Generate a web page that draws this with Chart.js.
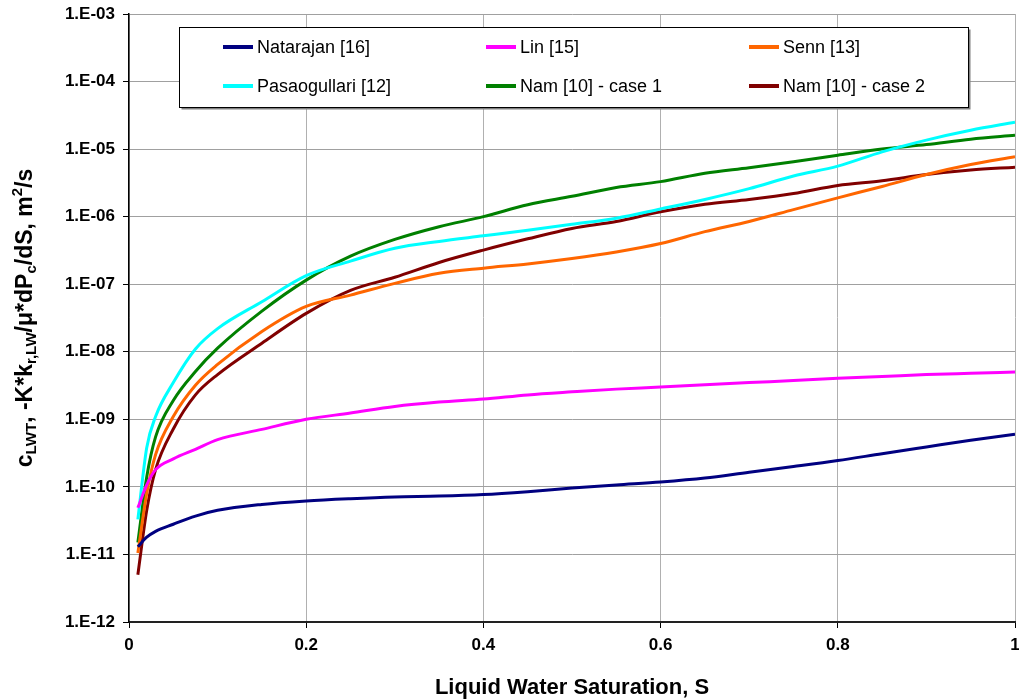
<!DOCTYPE html>
<html>
<head>
<meta charset="utf-8">
<script src="https://cdn.jsdelivr.net/npm/chart.js@4/dist/chart.umd.min.js"></script>
<style>
  html, body { margin: 0; padding: 0; background: #fff; }
  #wrap { width: 1019px; height: 700px; }
</style>
</head>
<body>
<div id="wrap"><canvas id="chart" width="1019" height="700"></canvas></div>
<script>
// liquid water saturation S
const saturation = [0.01, 0.02, 0.03, 0.05, 0.075, 0.1, 0.15, 0.2, 0.25, 0.3, 0.35, 0.4,
  0.45, 0.5, 0.55, 0.6, 0.65, 0.7, 0.75, 0.8, 0.85, 0.9, 0.95, 1.0];

const natarajan = [1.3e-11, 1.8e-11, 2.2e-11, 2.8e-11, 3.7e-11, 4.5e-11, 5.5e-11, 6.2e-11, 6.7e-11,
  7.1e-11, 7.3e-11, 7.7e-11, 8.5e-11, 9.6e-11, 1.07e-10, 1.18e-10, 1.35e-10, 1.65e-10, 2.0e-10,
  2.45e-10, 3.1e-10, 3.9e-10, 4.9e-10, 6.0e-10];
const lin = [4.9e-11, 1.07e-10, 1.8e-10, 2.6e-10, 3.6e-10, 5.0e-10, 7.1e-10, 1.0e-9, 1.24e-9,
  1.55e-9, 1.8e-9, 2.0e-9, 2.3e-9, 2.55e-9, 2.8e-9, 3.0e-9, 3.25e-9, 3.5e-9, 3.75e-9, 4.05e-9,
  4.3e-9, 4.6e-9, 4.8e-9, 5.0e-9];
const senn = [1.05e-11, 8e-11, 3.0e-10, 1.1e-9, 3.2e-9, 6.5e-9, 2.0e-8, 4.7e-8, 6.9e-8, 1.03e-7,
  1.45e-7, 1.73e-7, 2.0e-7, 2.4e-7, 3.0e-7, 4.0e-7, 6.0e-7, 8.5e-7, 1.27e-6, 1.9e-6, 2.8e-6,
  4.2e-6, 5.9e-6, 7.7e-6];
const pasaogullari = [3.3e-11, 3.8e-10, 1.1e-9, 3.5e-9, 1.1e-8, 2.2e-8, 5.5e-8, 1.34e-7, 2.2e-7,
  3.4e-7, 4.3e-7, 5.2e-7, 6.3e-7, 7.7e-7, 9.5e-7, 1.3e-6, 1.8e-6, 2.6e-6, 4.0e-6, 5.6e-6, 9.1e-6,
  1.36e-5, 1.9e-5, 2.5e-5];
const namCase1 = [1.5e-11, 1.4e-10, 5.5e-10, 1.9e-9, 5.1e-9, 1.13e-8, 4.0e-8, 1.15e-7, 2.6e-7,
  4.6e-7, 7.1e-7, 1.0e-6, 1.5e-6, 2.0e-6, 2.7e-6, 3.3e-6, 4.4e-6, 5.3e-6, 6.5e-6, 8.1e-6, 1.0e-5,
  1.17e-5, 1.4e-5, 1.6e-5];
const namCase2 = [5e-12, 4.5e-11, 1.8e-10, 7.2e-10, 2.3e-9, 4.6e-9, 1.34e-8, 3.7e-8, 8.1e-8,
  1.27e-7, 2.1e-7, 3.2e-7, 4.7e-7, 6.7e-7, 8.5e-7, 1.18e-6, 1.53e-6, 1.8e-6, 2.2e-6, 2.9e-6,
  3.4e-6, 4.2e-6, 4.9e-6, 5.4e-6];

const seriesNames = ['Natarajan [16]', 'Lin [15]', 'Senn [13]',
  'Pasaogullari [12]', 'Nam [10] - case 1', 'Nam [10] - case 2'];
const seriesValues = [natarajan, lin, senn, pasaogullari, namCase1, namCase2];
const seriesColors = ['#000080', '#ff00ff', '#ff6600', '#00ffff', '#008000', '#800000'];

const xTicks = [0, 0.2, 0.4, 0.6, 0.8, 1];
const yTicks = [1e-12, 1e-11, 1e-10, 1e-9, 1e-8, 1e-7, 1e-6, 1e-5, 1e-4, 1e-3];
const xTitle = 'Liquid Water Saturation, S';
// y title pieces: normal / sub / sup
const yTitle = [['c', 'n'], ['LWT', 'sub'], [', -K*k', 'n'], ['r,LW', 'sub'], ['/\u03bc*dP', 'n'],
  ['c', 'sub'], ['/dS, m', 'n'], ['2', 'sup'], ['/s', 'n']];

const FONT = '"Liberation Sans", Arial, sans-serif';

function sciLabel(v) {
  const e = Math.round(Math.log10(v));
  const sign = e < 0 ? '-' : '+';
  const a = Math.abs(e);
  return '1.E' + sign + (a < 10 ? '0' + a : a);
}

const datasets = seriesNames.map((name, i) => ({
  label: name,
  data: saturation.map((s, j) => ({ x: s, y: seriesValues[i][j] })),
  borderColor: seriesColors[i],
  backgroundColor: seriesColors[i],
  borderWidth: 3,
  pointRadius: 0,
  cubicInterpolationMode: 'monotone',
  fill: false
}));

const titlesPlugin = {
  id: 'titles',
  afterDraw(chart) {
    const ctx = chart.ctx;
    const area = chart.chartArea;
    ctx.save();
    ctx.fillStyle = '#000';
    ctx.font = 'bold 22px ' + FONT;
    ctx.textAlign = 'center';
    ctx.textBaseline = 'middle';
    ctx.fillText(xTitle, (area.left + area.right) / 2, 688);

    // rotated y title with sub/superscripts
    const big = 'bold 23px ' + FONT;
    const small = 'bold 15px ' + FONT;
    let total = 0;
    yTitle.forEach(([t, k]) => {
      ctx.font = k === 'n' ? big : small;
      total += ctx.measureText(t).width;
    });
    ctx.translate(32, (area.top + area.bottom) / 2);
    ctx.rotate(-Math.PI / 2);
    ctx.textAlign = 'left';
    ctx.textBaseline = 'alphabetic';
    let x = -total / 2;
    yTitle.forEach(([t, k]) => {
      ctx.font = k === 'n' ? big : small;
      const dy = k === 'sub' ? 4 : (k === 'sup' ? -10 : 0);
      ctx.fillText(t, x, dy);
      x += ctx.measureText(t).width;
    });
    ctx.restore();
  }
};

const legendPlugin = {
  id: 'boxLegend',
  afterDatasetsDraw(chart) {
    const ctx = chart.ctx;
    const bx = 179.5, by = 27.5, bw = 789, bh = 80;
    ctx.save();
    ctx.fillStyle = '#808080';
    ctx.fillRect(bx + 2, by + 2, bw, bh);
    ctx.fillStyle = '#fff';
    ctx.fillRect(bx, by, bw, bh);
    ctx.strokeStyle = '#000';
    ctx.lineWidth = 1;
    ctx.strokeRect(bx, by, bw, bh);
    const cols = [223, 486, 749];
    const rows = [47, 86];
    ctx.font = '18px ' + FONT;
    ctx.textBaseline = 'middle';
    ctx.textAlign = 'left';
    seriesNames.forEach((name, i) => {
      const cx = cols[i % 3];
      const cy = rows[Math.floor(i / 3)];
      ctx.strokeStyle = seriesColors[i];
      ctx.lineWidth = 4;
      ctx.beginPath();
      ctx.moveTo(cx, cy);
      ctx.lineTo(cx + 30, cy);
      ctx.stroke();
      ctx.fillStyle = '#000';
      ctx.fillText(name, cx + 34, cy + 1);
    });
    ctx.restore();
  }
};

new Chart(document.getElementById('chart'), {
  type: 'line',
  data: { datasets },
  options: {
    responsive: false,
    animation: false,
    layout: { padding: { top: 14, right: 4, left: 0, bottom: 0 } },
    plugins: {
      legend: { display: false },
      tooltip: { enabled: false }
    },
    scales: {
      x: {
        type: 'linear',
        min: 0,
        max: 1,
        afterBuildTicks: (scale) => { scale.ticks = xTicks.map(v => ({ value: v })); },
        afterFit: (scale) => { scale.height = 78; scale.paddingRight = 0; scale.paddingLeft = 0; },
        ticks: {
          color: '#000',
          font: { family: FONT, size: 17, weight: 'bold' },
          padding: 7,
          maxRotation: 0,
          callback: (v) => String(v)
        },
        grid: { color: '#b0b0b0', lineWidth: 1, tickColor: '#000', tickLength: 6 },
        border: { color: '#222', width: 2 }
      },
      y: {
        type: 'logarithmic',
        min: 1e-12,
        max: 1e-3,
        afterBuildTicks: (scale) => { scale.ticks = yTicks.map(v => ({ value: v })); },
        afterFit: (scale) => { scale.width = 129; scale.paddingTop = 0; scale.paddingBottom = 0; },
        ticks: {
          color: '#000',
          font: { family: FONT, size: 17, weight: 'bold' },
          padding: 8,
          callback: (v) => sciLabel(v)
        },
        grid: { color: '#a0a0a0', lineWidth: 1, tickColor: '#000', tickLength: 6 },
        border: { color: '#000', width: 1.5 }
      }
    }
  },
  plugins: [legendPlugin, titlesPlugin]
});
</script>
</body>
</html>
